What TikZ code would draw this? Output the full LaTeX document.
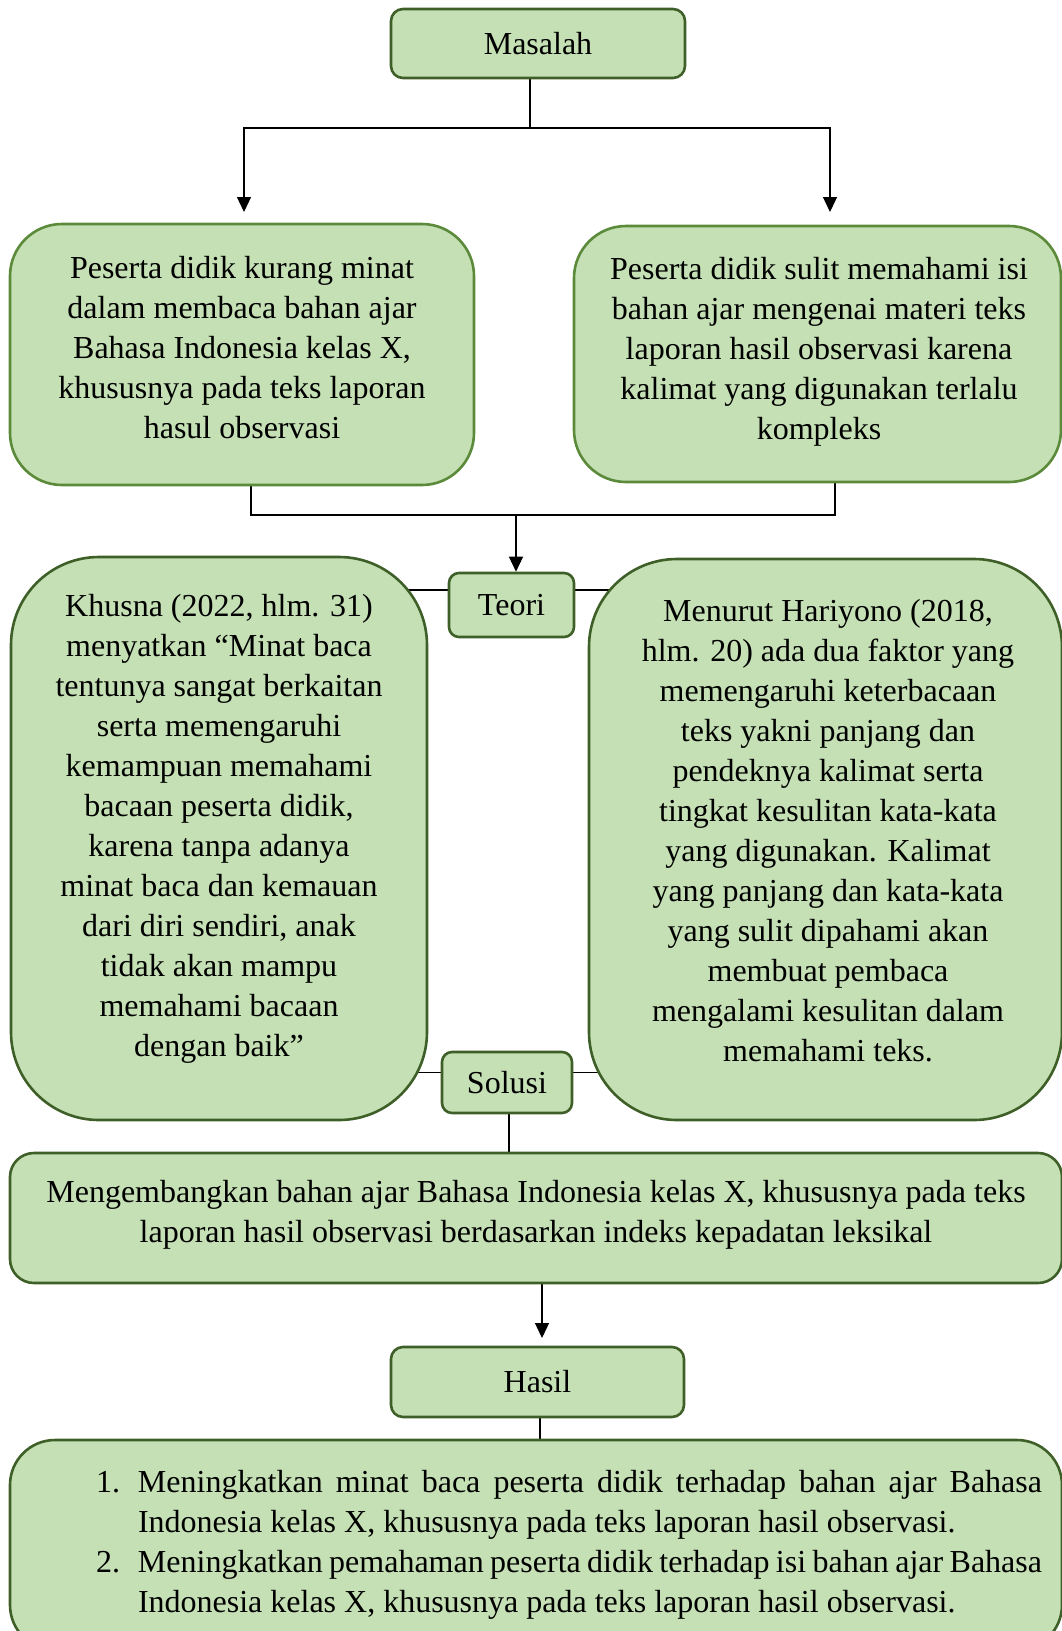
\documentclass[tikz,border=0pt]{standalone}
\usepackage{fontspec}
\setmainfont{Liberation Serif}
\usetikzlibrary{arrows.meta}
\definecolor{boxfill}{HTML}{C5E0B4}
\definecolor{boxline}{HTML}{3F5F28}
\definecolor{boxlinelight}{HTML}{5B8A3A}
\pgfdeclarelayer{bg}
\pgfsetlayers{bg,main}

\begin{document}
\begin{tikzpicture}[x=1pt,y=-1pt,
  every node/.style={font=\fontsize{32}{40}\selectfont},
  headbox/.style={draw=boxline, fill=boxfill, line width=2.6pt, rounded corners=12pt, inner sep=0pt},
  bigbox/.style={draw=boxline, fill=boxfill, line width=2.6pt, inner sep=0pt},
  txt/.style={align=center, inner sep=0pt},
  link/.style={line width=1.3pt},
  arr/.style={line width=1.3pt, -{Triangle[length=15pt,width=14pt]}}
]
\useasboundingbox (0,0) rectangle (1062,1631);

% Masalah
\node[headbox, minimum width=294pt, minimum height=69pt] (masalah) at (538,43.5) {Masalah};

% Problems
\node[bigbox, draw=boxlinelight, rounded corners=52pt, minimum width=464pt, minimum height=261pt] (p1) at (242,354.5) {};
\node[txt] (p1txt) at ([yshift=7pt]p1.center) {Peserta didik kurang minat\\dalam membaca bahan ajar\\Bahasa Indonesia kelas X,\\khususnya pada teks laporan\\hasul observasi};
\node[bigbox, draw=boxlinelight, rounded corners=52pt, minimum width=487pt, minimum height=256pt] (p2) at (817.5,354) {};
\node[txt] (p2txt) at ([xshift=1.5pt,yshift=2pt]p2.center) {Peserta didik sulit memahami isi\\bahan ajar mengenai materi teks\\laporan hasil observasi karena\\kalimat yang digunakan terlalu\\kompleks};

% Teori
\node[headbox, rounded corners=10pt, minimum width=125pt, minimum height=64pt] (teori) at (511.5,605) {Teori};
\node[bigbox, rounded corners=88pt, minimum width=416pt, minimum height=563pt] (t1) at (219,838.5) {};
\node[txt] (t1txt) at ([yshift=10pt]t1.center) {Khusna (2022, hlm. 31)\\menyatkan “Minat baca\\tentunya sangat berkaitan\\serta memengaruhi\\kemampuan memahami\\bacaan peserta didik,\\karena tanpa adanya\\minat baca dan kemauan\\dari diri sendiri, anak\\tidak akan mampu\\memahami bacaan\\dengan baik”};
\node[bigbox, rounded corners=88pt, minimum width=473pt, minimum height=561pt] (t2) at (825.5,839.5) {};
\node[txt] (t2txt) at ([xshift=2.5pt,yshift=9pt]t2.center) {Menurut Hariyono (2018,\\hlm. 20) ada dua faktor yang\\memengaruhi keterbacaan\\teks yakni panjang dan\\pendeknya kalimat serta\\tingkat kesulitan kata-kata\\yang digunakan. Kalimat\\yang panjang dan kata-kata\\yang sulit dipahami akan\\membuat pembaca\\mengalami kesulitan dalam\\memahami teks.};

% Solusi
\node[headbox, rounded corners=10pt, minimum width=130pt, minimum height=61pt] (solusi) at (507,1082.5) {Solusi};
\node[bigbox, rounded corners=24pt, minimum width=1052pt, minimum height=130pt] (sol) at (536,1218) {};
\node[txt] (soltxt) at ([yshift=3pt]sol.center) {Mengembangkan bahan ajar Bahasa Indonesia kelas X, khususnya pada teks\\laporan hasil observasi berdasarkan indeks kepadatan leksikal};

% Hasil
\node[headbox, minimum width=293pt, minimum height=70pt] (hasil) at (537.5,1382) {Hasil};
\node[bigbox, rounded corners=45pt, minimum width=1052pt, minimum height=210pt] (res) at (536,1545) {};
\node[txt, align=justify, text width=946pt] (restxt) at (569,1545) {\noindent\hangindent=42pt\hangafter=1\makebox[42pt][l]{1.}Meningkatkan minat baca peserta didik terhadap bahan ajar Bahasa\linebreak Indonesia kelas X, khususnya pada teks laporan hasil observasi.\par
\noindent\hangindent=42pt\hangafter=1\makebox[42pt][l]{2.}Meningkatkan pemahaman peserta didik terhadap isi bahan ajar Bahasa\linebreak Indonesia kelas X, khususnya pada teks laporan hasil observasi.\par};

% Connectors
\begin{pgfonlayer}{bg}
\coordinate (fork) at (530,128);
\coordinate (a1) at (244,212);
\coordinate (a2) at (830,212);
\draw[link] ([xshift=-8pt]masalah.south) -- (fork);
\draw[arr] (fork) -| (a1);
\draw[arr] (fork) -| (a2);
\coordinate (join) at (516,515);
\draw[link] ([xshift=9pt]p1.south) |- (join) -| ([xshift=17.5pt]p2.south);
\draw[arr] (join) -- (join |- teori.north);
\draw[link] ([yshift=15pt]teori.west) -- ([yshift=15pt]teori.west -| t1.center);
\draw[link] ([yshift=15pt]teori.east) -- ([yshift=15pt]teori.east -| t2.center);
\draw[link] ([yshift=10pt]solusi.west) -- ([yshift=10pt]solusi.west -| t1.center);
\draw[link] ([yshift=10pt]solusi.east) -- ([yshift=10pt]solusi.east -| t2.center);
\draw[link] ([xshift=2pt]solusi.south) -- ([xshift=2pt]solusi.south |- sol.center);
\coordinate (s1) at (542,1283);
\coordinate (h1) at (542,1338);
\draw[arr] (s1) -- (h1);
\coordinate (h2) at (540,1440);
\draw[link] (hasil.south -| h2) -- (h2);
\end{pgfonlayer}
\end{tikzpicture}
\end{document}
